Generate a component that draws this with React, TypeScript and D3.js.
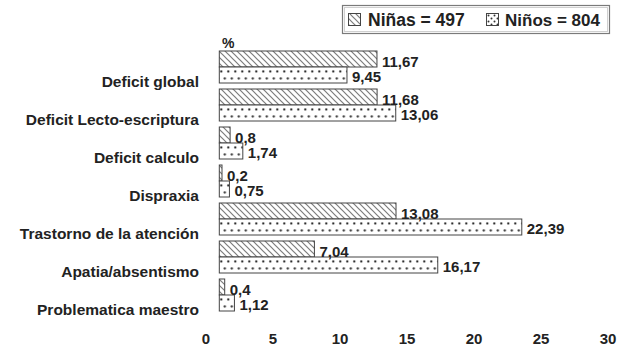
import React from "react";
import * as d3 from "d3";

// Categories (top to bottom) and the two series, in percent
const categories = [
  "Deficit global",
  "Deficit Lecto-escriptura",
  "Deficit calculo",
  "Dispraxia",
  "Trastorno de la atención",
  "Apatia/absentismo",
  "Problematica maestro",
];
const ninas = [11.67, 11.68, 0.8, 0.2, 13.08, 7.04, 0.4];
const ninos = [9.45, 13.06, 1.74, 0.75, 22.39, 16.17, 1.12];
const ninasLabels = ["11,67", "11,68", "0,8", "0,2", "13,08", "7,04", "0,4"];
const ninosLabels = ["9,45", "13,06", "1,74", "0,75", "22,39", "16,17", "1,12"];
const tickValues = [0, 5, 10, 15, 20, 25, 30];
const legendItems = ["Niñas = 497", "Niños = 804"];

const W = 619;
const H = 354;
const FONT = "'Liberation Sans', Arial, Helvetica, sans-serif";
const INK = "#222";

export default function App() {
  const x = d3.scaleLinear().domain([0, 30]).range([219.3, 624.6]);
  const xTick = d3.scaleLinear().domain([0, 30]).range([206, 608]);
  const y = d3
    .scaleBand<string>()
    .domain(categories)
    .range([51, 311])
    .paddingInner(6 / 38);
  const bh = y.bandwidth() / 2;
  const fmt = (v: number) => d3.format(".0f")(v);

  return (
    <svg
      width={W}
      height={H}
      style={{ position: "fixed", left: 0, top: 0, background: "#fff" }}
      fontFamily={FONT}
    >
      <defs>
        <pattern id="hatch" patternUnits="userSpaceOnUse" width={6} height={6}>
          <rect width={6} height={6} fill="#fff" />
          <path
            d="M-1,-1 L7,7 M-1,5 L1,7 M5,-1 L7,1"
            stroke="#7c7c7c"
            strokeWidth={1.2}
          />
        </pattern>
        {categories.map((c, i) => (
          <pattern
            key={c}
            id={`dots-${i}`}
            patternUnits="userSpaceOnUse"
            width={7}
            height={16}
            patternTransform={`translate(${x(0)}, ${(y(c) ?? 0) + bh})`}
          >
            <rect width={7} height={16} fill="#fff" />
            <circle cx={2} cy={4.5} r={1.15} fill="#2e2e2e" />
            <circle cx={5.5} cy={11.5} r={1.15} fill="#2e2e2e" />
          </pattern>
        ))}
        <pattern
          id="dots-legend"
          patternUnits="userSpaceOnUse"
          width={6}
          height={6}
          patternTransform="translate(487, 14)"
        >
          <rect width={6} height={6} fill="#fff" />
          <circle cx={1.5} cy={1.5} r={1} fill="#333" />
          <circle cx={4.5} cy={4.5} r={1} fill="#333" />
        </pattern>
      </defs>

      {/* Legend */}
      <rect x={342.5} y={5.5} width={267} height={28} fill="#fff" stroke="#7a7a7a" strokeWidth={1.2} />
      <rect x={344.5} y={7.5} width={263} height={24} fill="none" stroke="#d0d0d0" strokeWidth={1} />
      <rect x={348.5} y={13.5} width={12} height={12} fill="url(#hatch)" stroke="#444" />
      <text x={368} y={26} fontSize={17.5} fontWeight="bold" fill={INK}>
        {legendItems[0]}
      </text>
      <rect x={486.5} y={13.5} width={12} height={12} fill="url(#dots-legend)" stroke="#444" />
      <text x={505} y={26} fontSize={17} fontWeight="bold" fill={INK}>
        {legendItems[1]}
      </text>

      {/* Unit */}
      <text x={222} y={48} fontSize={14} fontWeight="bold" fill={INK}>
        %
      </text>

      {/* Bars and value labels */}
      {categories.map((c, i) => {
        const top = y(c) ?? 0;
        return (
          <g key={c}>
            <rect
              x={x(0)}
              y={top}
              width={x(ninas[i]) - x(0)}
              height={bh}
              fill="url(#hatch)"
              stroke="#444"
              strokeWidth={1}
            />
            <rect
              x={x(0)}
              y={top + bh}
              width={x(ninos[i]) - x(0)}
              height={bh}
              fill={`url(#dots-${i})`}
              stroke="#444"
              strokeWidth={1}
            />
            <text x={x(ninas[i]) + 5} y={top + bh - 0.5} fontSize={15} fontWeight="bold" fill={INK}>
              {ninasLabels[i]}
            </text>
            <text x={x(ninos[i]) + 5} y={top + 2 * bh - 1} fontSize={15} fontWeight="bold" fill={INK}>
              {ninosLabels[i]}
            </text>
            <text
              x={199}
              y={top + 2 * bh + 4}
              fontSize={15.5}
              fontWeight="bold"
              textAnchor="end"
              fill={INK}
            >
              {c}
            </text>
          </g>
        );
      })}

      {/* X tick labels */}
      {tickValues.map((t) => (
        <text
          key={t}
          x={xTick(t)}
          y={344}
          fontSize={15}
          fontWeight="bold"
          textAnchor="middle"
          fill={INK}
        >
          {fmt(t)}
        </text>
      ))}
    </svg>
  );
}
